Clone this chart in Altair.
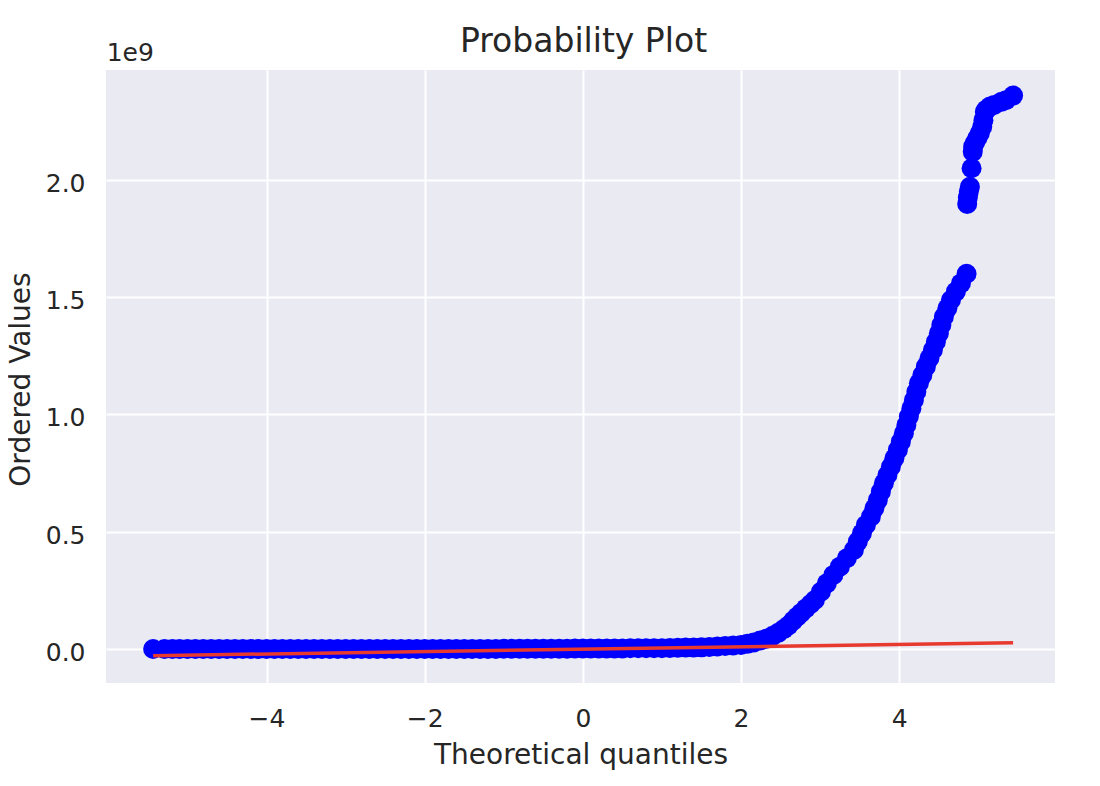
import altair as alt
import pandas as pd

# Theoretical quantiles (x) and ordered values (y, in units of 1e9)
x_flat = [-5.434, -5.29, -5.19,
          -5.1, -5.0, -4.9, -4.8, -4.7, -4.6, -4.5, -4.4, -4.3, -4.2, -4.1, -4.0,
          -3.9, -3.8, -3.7, -3.6, -3.5, -3.4, -3.3, -3.2, -3.1, -3.0,
          -2.9, -2.8, -2.7, -2.6, -2.5, -2.4, -2.3, -2.2, -2.1, -2.0,
          -1.9, -1.8, -1.7, -1.6, -1.5, -1.4, -1.3, -1.2, -1.1, -1.0,
          -0.9, -0.8, -0.7, -0.6, -0.5, -0.4, -0.3, -0.2, -0.1, 0.0,
          0.1, 0.2, 0.3, 0.4, 0.5, 0.6, 0.7, 0.8, 0.9, 1.0,
          1.1, 1.2, 1.3, 1.4]
y_flat = [0.0, 0.0, 0.0,
          0.0, 0.0, 0.0, 0.0, 0.0, 0.0, 0.0, 0.0, 0.0, 0.0, 0.0, 0.0,
          0.0, 0.0, 0.0, 0.0, 0.0, 0.0, 0.0, 0.0, 0.0, 0.0,
          0.0, 0.0, 0.0, 0.0, 0.0, 0.0, 0.0, 0.0, 0.0, 0.0,
          0.0, 0.0, 0.0, 0.0, 0.0, 0.0, 0.0, 0.0, 0.0, 0.001,
          0.001, 0.001, 0.001, 0.001, 0.001, 0.001, 0.001, 0.001, 0.002, 0.002,
          0.002, 0.002, 0.002, 0.002, 0.002, 0.003, 0.003, 0.003, 0.003, 0.003,
          0.004, 0.005, 0.006, 0.006]

x_knee = [1.5, 1.6, 1.7, 1.8, 1.9, 2.0, 2.08, 2.16, 2.24, 2.32,
          2.40, 2.47, 2.54, 2.60, 2.66, 2.71, 2.76, 2.82, 2.88]
y_knee = [0.007, 0.009, 0.011, 0.013, 0.015, 0.017, 0.022, 0.028, 0.036, 0.044,
          0.056, 0.069, 0.085, 0.100, 0.121, 0.138, 0.154, 0.173, 0.192]

x_rise = [2.934, 3.010, 3.085, 3.168, 3.250, 3.338, 3.427, 3.477, 3.528, 3.579,
          3.642, 3.686, 3.730, 3.768, 3.806, 3.851, 3.895, 3.939, 3.983, 4.021,
          4.059, 4.091, 4.122, 4.154, 4.186, 4.217, 4.249, 4.293, 4.337, 4.382,
          4.426, 4.464, 4.502, 4.533, 4.565, 4.609, 4.654, 4.717, 4.780, 4.852]
y_rise = [0.209, 0.244, 0.280, 0.316, 0.351, 0.387, 0.422, 0.458, 0.493, 0.529,
          0.564, 0.600, 0.635, 0.671, 0.707, 0.742, 0.777, 0.813, 0.849, 0.884,
          0.920, 0.955, 0.991, 1.026, 1.062, 1.097, 1.133, 1.168, 1.204, 1.240,
          1.275, 1.310, 1.346, 1.382, 1.417, 1.453, 1.488, 1.524, 1.559, 1.600]

x_top = [4.860, 4.868, 4.880, 4.894, 4.915, 4.930, 4.935, 4.960, 4.990, 5.020,
         5.050, 5.065, 5.083, 5.100, 5.147, 5.200, 5.295, 5.350, 5.440]
y_top = [1.898, 1.925, 1.950, 1.971, 2.050, 2.120, 2.142, 2.160, 2.180, 2.200,
         2.227, 2.255, 2.291, 2.300, 2.313, 2.320, 2.334, 2.340, 2.360]

# Least-squares fit line endpoints
fit_x = [-5.434, 5.44]
fit_y = [-0.0285, 0.027]

x_ticks = [-4, -2, 0, 2, 4]
y_ticks = [0.0, 0.5, 1.0, 1.5, 2.0]

pts = pd.DataFrame({"q": x_flat + x_knee + x_rise + x_top,
                    "v": y_flat + y_knee + y_rise + y_top})
fit = pd.DataFrame({"q": fit_x, "v": fit_y})

FONT = "DejaVu Sans"
TXT = "#262626"
W, H = 949, 613

xscale = alt.Scale(domain=[-6.03, 5.97], nice=False, zero=False)
yscale = alt.Scale(domain=[-0.145, 2.469], nice=False, zero=False)

xaxis = alt.Axis(values=x_ticks, format="d", title="Theoretical quantiles",
                 labelBaseline="alphabetic", labelPadding=43,
                 titleBaseline="alphabetic", titleY=80)
yaxis = alt.Axis(values=y_ticks, format=".1f", title="Ordered Values",
                 labelBaseline="alphabetic", labelPadding=21, labelOffset=11.5,
                 titleBaseline="alphabetic", titleX=-76.5, titleY=309, titleAlign="center")

points = alt.Chart(pts).mark_circle(color="#0000ff", opacity=1, size=400).encode(
    x=alt.X("q:Q", scale=xscale, axis=xaxis),
    y=alt.Y("v:Q", scale=yscale, axis=yaxis),
)

line = alt.Chart(fit).mark_line(color="#e8392f", strokeWidth=3.5).encode(
    x=alt.X("q:Q", scale=xscale),
    y=alt.Y("v:Q", scale=yscale),
)

offset_text = alt.Chart(pd.DataFrame({"t": ["1e9"]})).mark_text(
    font=FONT, fontSize=25, color=TXT, align="left", baseline="alphabetic"
).encode(text="t:N", x=alt.value(0.7), y=alt.value(-9))

title_text = alt.Chart(pd.DataFrame({"t": ["Probability Plot"]})).mark_text(
    font=FONT, fontSize=33, color=TXT, align="center", baseline="alphabetic"
).encode(text="t:N", x=alt.value(W / 2 + 3), y=alt.value(-18.3))

chart = alt.layer(points, line, offset_text, title_text).properties(
    width=W, height=H,
    autosize=alt.AutoSizeParams(type="none"),
    padding={"left": 98, "top": 62, "right": 37, "bottom": 95},
).configure_view(
    fill="#eaeaf2", strokeWidth=0
).configure_axis(
    grid=True, gridColor="#ffffff", gridWidth=2, gridOpacity=1,
    domain=False, ticks=False, tickSize=0,
    labelFont=FONT, labelFontSize=25, labelColor=TXT,
    titleFont=FONT, titleFontSize=28, titleColor=TXT, titleFontWeight="normal",
)

chart.save("out.html", embed_options={"renderer": "svg", "actions": False})
